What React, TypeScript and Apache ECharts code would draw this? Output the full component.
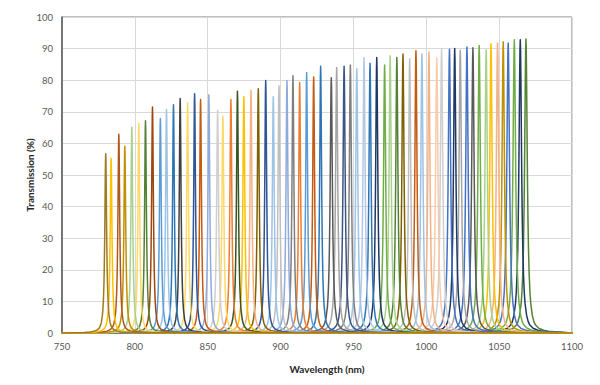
import React, { useEffect, useRef } from "react";
import * as echarts from "echarts";

// Axis ranges and ticks
const X_MIN = 750;
const X_MAX = 1100;
const X_STEP = 50;
const Y_MIN = 0;
const Y_MAX = 100;
const Y_STEP = 10;

// Peak centre wavelengths (nm)
const centers = [
  780.0, 783.7, 789.0, 793.1, 797.9, 802.7, 807.3, 812.1, 817.5, 821.7,
  826.5, 831.1, 836.2, 841.0, 845.1, 850.8, 856.8, 860.4, 865.9, 870.4,
  874.8, 879.7, 884.7, 889.8, 895.0, 898.9, 904.4, 908.5, 913.1, 917.9,
  922.7, 927.5, 934.8, 938.5, 943.6, 947.9, 952.3, 957.3, 961.4, 966.0,
  971.4, 975.2, 979.8, 984.0, 988.6, 992.9, 997.0, 1001.8, 1007.2, 1010.5,
  1015.9, 1019.5, 1023.3, 1027.9, 1032.0, 1036.3, 1041.1, 1044.4, 1048.9, 1052.8,
  1056.2, 1060.4, 1064.5, 1068.4,
];

// Peak transmission (%)
const peaks = [
  56.7, 55.3, 62.9, 59.1, 65.1, 66.4, 67.2, 71.5, 67.9, 70.7,
  72.2, 74.2, 72.9, 75.7, 73.9, 75.4, 70.5, 68.7, 73.9, 76.5,
  74.8, 76.8, 77.3, 79.9, 74.8, 78.2, 79.9, 81.4, 79.3, 82.4,
  81.0, 84.4, 80.8, 84.0, 84.4, 84.8, 83.6, 87.2, 85.4, 87.2,
  84.8, 87.7, 87.2, 88.3, 86.8, 89.3, 88.3, 88.9, 87.0, 89.8,
  89.8, 90.0, 89.5, 90.5, 90.3, 91.0, 89.6, 91.5, 91.8, 92.2,
  91.8, 92.8, 92.8, 93.0,
];

// Bandwidth (FWHM, nm) of each filter
const fwhm = [
  1.5, 1.5, 1.5, 1.5, 1.5, 1.5, 1.5, 1.5, 1.5, 1.5,
  1.5, 1.5, 1.5, 1.5, 1.5, 1.5, 1.6, 1.6, 1.6, 1.6,
  1.6, 1.6, 1.6, 1.6, 1.6, 1.6, 1.6, 1.6, 1.6, 1.6,
  1.6, 1.6, 1.8, 1.8, 1.8, 1.8, 1.8, 1.8, 1.8, 1.8,
  1.8, 1.8, 1.8, 1.8, 1.8, 1.8, 1.8, 1.8, 2.0, 2.0,
  2.0, 2.0, 2.0, 2.0, 2.0, 2.0, 2.0, 2.0, 2.0, 2.0,
  2.2, 2.2, 2.2, 2.2,
];

// Shared line shape: offset from centre (in FWHM units) and relative transmission
const profileOffsets = [0, 0.1, 0.2, 0.3, 0.4, 0.5, 0.65, 0.8, 1, 1.25, 1.5, 2, 2.5, 3, 4, 5.5, 7, 10, 15];
const profileValues = [
  1, 0.962, 0.862, 0.735, 0.61, 0.5, 0.372, 0.281, 0.2, 0.138, 0.1, 0.059, 0.038, 0.027, 0.016, 0.0095,
  0.006, 0.0032, 0.0012,
];

const colors = [
  "#9E7B22", "#FFC000", "#B0581C", "#BF9000", "#A9D18E", "#FFD966", "#548235", "#9E480E", "#5B9BD5", "#9DC3E6",
  "#2E75B6", "#404040", "#FFD966", "#2F5597", "#C55A11", "#8FAADC", "#D0CECE", "#FFD966", "#ED7D31", "#385723",
  "#FFC000", "#F4B183", "#806000", "#2F5597", "#9DC3E6", "#BFBFBF", "#8FAADC", "#7F7F7F", "#ED7D31", "#5B9BD5",
  "#C55A11", "#2E75B6", "#595959", "#A5A5A5", "#3A5585", "#7F7F7F", "#9DC3E6", "#B4C7E7", "#2E75B6", "#1F3864",
  "#70AD47", "#A9D18E", "#548235", "#7F6000", "#BFBFBF", "#C55A11", "#9DC3E6", "#F4B183", "#F8CBAD", "#D0CECE",
  "#4472C4", "#203864", "#A5A5A5", "#4472C4", "#595959", "#70AD47", "#A9D18E", "#FFC000", "#F4B183", "#BF9000",
  "#4472C4", "#70AD47", "#203864", "#548235",
];

const X_TITLE = "Wavelength (nm)";
const Y_TITLE = "Transmission (%)";

function buildCurve(i: number): number[][] {
  const c = centers[i];
  const h = peaks[i];
  const w = fwhm[i];
  const pts: number[][] = [];
  for (let k = profileOffsets.length - 1; k >= 1; k--) {
    pts.push([c - profileOffsets[k] * w, h * profileValues[k]]);
  }
  pts.push([c, h]);
  for (let k = 1; k < profileOffsets.length; k++) {
    pts.push([c + profileOffsets[k] * w, h * profileValues[k]]);
  }
  const inside = pts.filter((p) => p[0] > X_MIN && p[0] < X_MAX);
  return [[X_MIN, 0], ...inside, [X_MAX, 0]];
}

export default function App() {
  const ref = useRef<HTMLDivElement>(null);

  useEffect(() => {
    if (!ref.current) return;
    const chart = echarts.init(ref.current, undefined, { renderer: "svg" });
    const series: any[] = [];
    for (let i = centers.length - 1; i >= 0; i--) {
      series.push({
        type: "line",
        data: buildCurve(i),
        showSymbol: false,
        smooth: false,
        lineStyle: { color: colors[i], width: 1.5, join: "round", cap: "round" },
        itemStyle: { color: colors[i] },
        z: 2,
      });
    }
    const font = "Lato, 'Open Sans', 'DejaVu Sans', sans-serif";
    chart.setOption({
      animation: false,
      backgroundColor: "#ffffff",
      grid: {
        left: 62,
        right: 28,
        top: 17,
        bottom: 52,
        show: true,
        borderColor: "#7F7F7F",
        borderWidth: 1,
        backgroundColor: "transparent",
      },
      xAxis: {
        type: "value",
        min: X_MIN,
        max: X_MAX,
        interval: X_STEP,
        axisLine: { show: true, lineStyle: { color: "#7F7F7F", width: 1 } },
        axisTick: { show: false },
        splitLine: { show: true, lineStyle: { color: "#D9D9D9", width: 1 } },
        axisLabel: {
          color: "#595959",
          fontSize: 9.5,
          fontFamily: font,
          margin: 8,
          formatter: (v: number) => String(v),
        },
      },
      yAxis: {
        type: "value",
        min: Y_MIN,
        max: Y_MAX,
        interval: Y_STEP,
        axisLine: { show: true, lineStyle: { color: "#595959", width: 1.5 } },
        axisTick: { show: false },
        splitLine: { show: true, lineStyle: { color: "#D9D9D9", width: 1 } },
        axisLabel: {
          color: "#595959",
          fontSize: 9.5,
          fontFamily: font,
          margin: 9,
          formatter: (v: number) => String(v),
        },
      },
      graphic: [
        {
          type: "text",
          x: 327,
          y: 369,
          style: {
            text: X_TITLE,
            fill: "#262626",
            font: `bold 10px ${font}`,
            align: "center",
            verticalAlign: "middle",
          },
        },
        {
          type: "text",
          x: 30,
          y: 175,
          rotation: Math.PI / 2,
          style: {
            text: Y_TITLE,
            fill: "#262626",
            font: `bold 10px ${font}`,
            align: "center",
            verticalAlign: "middle",
          },
        },
      ],
      series,
    });
    return () => {
      chart.dispose();
    };
  }, []);

  return (
    <div
      ref={ref}
      style={{ position: "absolute", left: 0, top: 0, width: 600, height: 385, background: "#fff" }}
    />
  );
}
